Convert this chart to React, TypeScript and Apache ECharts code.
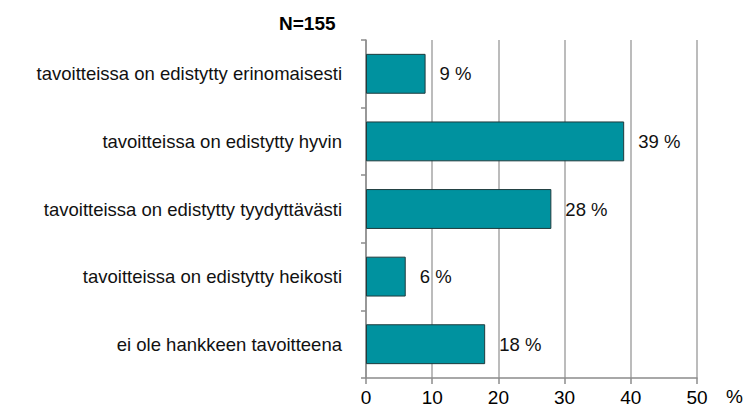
import React, { useEffect, useRef } from "react";
import * as echarts from "echarts";

const categories = [
  "tavoitteissa on edistytty erinomaisesti",
  "tavoitteissa on edistytty hyvin",
  "tavoitteissa on edistytty tyydyttävästi",
  "tavoitteissa on edistytty heikosti",
  "ei ole hankkeen tavoitteena",
];
const values = [9, 39, 28, 6, 18];
const xTicks = [0, 10, 20, 30, 40, 50];
const title = "N=155";
const unit = "%";

const FONT = "'Liberation Sans', Arial, Helvetica, sans-serif";

export default function App() {
  const ref = useRef<HTMLDivElement>(null);
  useEffect(() => {
    if (!ref.current) return;
    const chart = echarts.init(ref.current, null, { renderer: "svg" });
    chart.setOption({
      animation: false,
      backgroundColor: "#ffffff",
      textStyle: { fontFamily: FONT },
      title: {
        text: title,
        left: 274,
        top: 9,
        textStyle: { fontFamily: FONT, fontSize: 19, fontWeight: "bold", color: "#000" },
      },
      graphic: [
        {
          type: "text",
          left: 726,
          top: 387,
          style: { text: unit, fontFamily: FONT, fontSize: 19, fill: "#000" },
        },
      ],
      grid: { left: 366, right: 49, top: 40, bottom: 36, containLabel: false },
      xAxis: {
        type: "value",
        min: xTicks[0],
        max: xTicks[xTicks.length - 1],
        interval: 10,
        axisLine: { show: true, lineStyle: { color: "#8c8c8c", width: 1.5 } },
        axisTick: { show: true, length: 6, lineStyle: { color: "#8c8c8c", width: 1.5 } },
        splitLine: { show: true, lineStyle: { color: "#a6a6a6", width: 1.5 } },
        axisLabel: { fontFamily: FONT, fontSize: 19, color: "#000", margin: 10 },
      },
      yAxis: {
        type: "category",
        data: categories,
        inverse: true,
        axisLine: { show: true, lineStyle: { color: "#8c8c8c", width: 1.5 } },
        axisTick: { show: true, length: 5, alignWithLabel: false, lineStyle: { color: "#8c8c8c", width: 1.5 } },
        axisLabel: { fontFamily: FONT, fontSize: 18.5, color: "#111", margin: 24 },
      },
      series: [
        {
          type: "bar",
          data: values,
          barCategoryGap: "41%",
          itemStyle: { color: "#00929F", borderColor: "#1f3b3d", borderWidth: 1 },
          label: {
            show: true,
            position: "right",
            distance: 14,
            formatter: (p: any) => `${p.value} %`,
            fontFamily: FONT,
            fontSize: 18.5,
            color: "#111",
          },
        },
      ],
    });
    return () => chart.dispose();
  }, []);
  return (
    <div
      ref={ref}
      style={{ position: "absolute", left: 0, top: 0, width: 746, height: 414 }}
    />
  );
}
